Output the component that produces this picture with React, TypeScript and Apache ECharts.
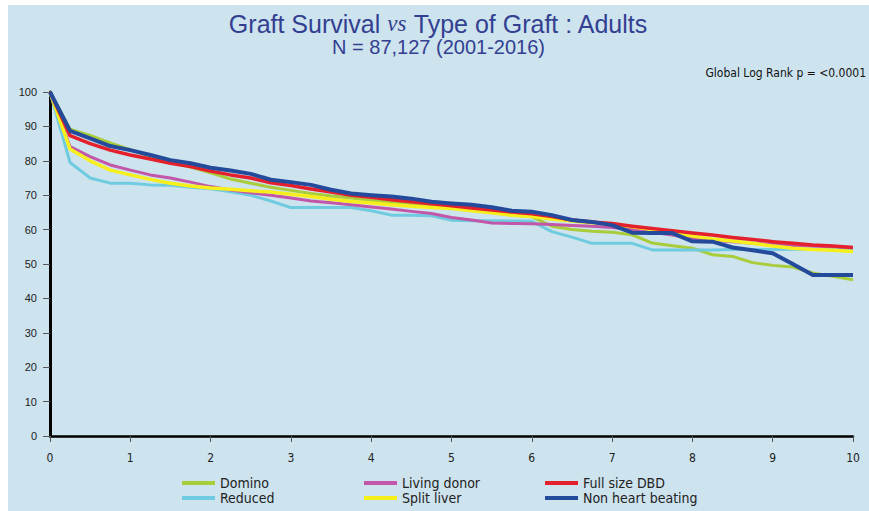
import React, { useEffect, useRef } from "react";
import * as echarts from "echarts";

const years = [0, 0.25, 0.5, 0.75, 1, 1.25, 1.5, 1.75, 2, 2.25, 2.5, 2.75, 3, 3.25, 3.5, 3.75, 4, 4.25, 4.5, 4.75, 5, 5.25, 5.5, 5.75, 6, 6.25, 6.5, 6.75, 7, 7.25, 7.5, 7.75, 8, 8.25, 8.5, 8.75, 9, 9.25, 9.5, 9.75, 10];

const domino = [100, 89.2, 87.4, 85.2, 83.2, 81.3, 79.6, 78.2, 76.5, 74.7, 73.5, 72.3, 71.4, 70.5, 69.8, 69.2, 68.5, 67.9, 67.3, 66.8, 66.3, 65.7, 65, 64.3, 63.7, 61, 60, 59.5, 59.2, 58.5, 56.1, 55.3, 54.6, 52.7, 52.2, 50.4, 49.6, 49.1, 47.4, 46.4, 45.4];
const reduced = [100, 79.5, 75, 73.5, 73.5, 73, 72.9, 72.3, 71.9, 71, 70, 68.3, 66.4, 66.4, 66.4, 66.4, 65.5, 64.2, 64.2, 64, 62.7, 62.6, 62.6, 62.5, 62.4, 59.4, 57.8, 56, 56, 56, 54.1, 54.1, 54.1, 54.1, 54.2, 54.2, 54.2, 54.3, 54.3, 54.3, 54.3];
const livingDonor = [100, 84.1, 81.2, 78.8, 77.3, 75.9, 75, 73.8, 72.5, 71.5, 70.7, 70, 69.2, 68.3, 67.8, 67.2, 66.6, 66, 65.3, 64.7, 63.5, 62.8, 61.9, 61.8, 61.7, 61.5, 61.2, 61, 60.6, 60, 59.2, 58.4, 57.5, 57, 56.5, 56, 55.7, 55.4, 55.2, 55, 54.8];
const splitLiver = [100, 83.4, 80, 77.3, 75.9, 74.6, 73.5, 72.7, 72.1, 71.7, 71.3, 70.9, 70.3, 69.6, 68.8, 68.2, 67.7, 67.2, 66.8, 66.4, 66.1, 65.5, 64.9, 64.2, 63.8, 63.1, 62.5, 62, 61.6, 60.8, 60, 58.9, 58.1, 57.3, 56.7, 56, 55.2, 54.6, 54.2, 54, 53.6];
const fullSizeDBD = [100, 87.3, 85, 83.1, 81.7, 80.5, 79.3, 78.3, 77, 75.9, 75, 73.6, 72.8, 71.8, 70.9, 70, 69.4, 68.7, 68.1, 67.5, 66.9, 66.3, 65.7, 65.1, 64.6, 63.8, 62.8, 62.2, 61.8, 61, 60.3, 59.7, 59, 58.4, 57.7, 57.1, 56.5, 56, 55.5, 55.2, 54.8];
const nonHeartBeating = [100, 88.7, 86.5, 84.3, 83.1, 81.7, 80.2, 79.3, 78, 77.2, 76.2, 74.5, 73.8, 73, 71.6, 70.5, 70, 69.6, 69, 68.1, 67.6, 67.2, 66.5, 65.5, 65.2, 64.2, 62.8, 62.2, 61.3, 59.1, 59, 59, 56.6, 56.5, 54.8, 54, 53.1, 50, 46.8, 46.8, 46.8];

const seriesDefs = [
  { name: "Domino", data: domino, color: "#a9cc3b", width: 3 },
  { name: "Reduced", data: reduced, color: "#6fcbe0", width: 3 },
  { name: "Living donor", data: livingDonor, color: "#c257a9", width: 3 },
  { name: "Split liver", data: splitLiver, color: "#f7ef1c", width: 3.5 },
  { name: "Full size DBD", data: fullSizeDBD, color: "#e3202b", width: 3.5 },
  { name: "Non heart beating", data: nonHeartBeating, color: "#234a9b", width: 4 },
];

const legendColumns = [
  ["Domino", "Reduced"],
  ["Living donor", "Split liver"],
  ["Full size DBD", "Non heart beating"],
];

const narrow = "'Liberation Sans Narrow', 'DejaVu Sans Condensed', 'Liberation Sans', sans-serif";
const sans = "'Liberation Sans', Arial, sans-serif";

export default function App() {
  const ref = useRef<HTMLDivElement>(null);
  useEffect(() => {
    if (!ref.current) return;
    const chart = echarts.init(ref.current, null, { renderer: "svg" });
    const legendLefts = [174, 356, 537];
    chart.setOption({
      animation: false,
      backgroundColor: "#cde3ee",
      title: {
        left: "center",
        top: 1,
        text: "{a|Graft Survival }{b|vs}{a| Type of Graft : Adults}",
        subtext: "N = 87,127 (2001-2016)",
        itemGap: 1,
        textStyle: {
          fontWeight: "normal",
          rich: {
            a: { fontFamily: sans, fontSize: 25, fontWeight: "normal", color: "#333f91" },
            b: { fontFamily: "'Liberation Serif', serif", fontStyle: "italic", fontWeight: "normal", fontSize: 23, color: "#333f91" },
          },
        },
        subtextStyle: { fontFamily: sans, fontSize: 20, color: "#333f91" },
      },
      graphic: [
        {
          type: "text",
          right: 3,
          top: 62,
          style: { text: "Global Log Rank p = <0.0001", font: `12px ${narrow}`, fill: "#111" },
        },
      ],
      legend: legendColumns.map((names, i) => ({
        show: true,
        type: "plain",
        orient: "vertical",
        left: legendLefts[i],
        top: 471,
        padding: 0,
        itemWidth: 33,
        itemHeight: 4,
        itemGap: 1,
        icon: "rect",
        selectedMode: false,
        textStyle: { fontFamily: narrow, fontSize: 14, color: "#222" },
        data: names.map((n) => ({ name: n })),
      })),
      grid: { left: 42, right: 16, top: 87, bottom: 75, containLabel: false },
      xAxis: {
        type: "value",
        min: 0,
        max: 10,
        interval: 1,
        axisLine: { show: true, lineStyle: { color: "#000", width: 2.5 } },
        axisTick: { show: true, length: 6, lineStyle: { color: "#555", width: 1 } },
        axisLabel: { fontFamily: narrow, fontSize: 12, color: "#222", margin: 16 },
        splitLine: { show: false },
      },
      yAxis: {
        type: "value",
        min: 0,
        max: 100,
        interval: 10,
        axisLine: { show: true, lineStyle: { color: "#000", width: 3 } },
        axisTick: { show: true, length: 7, lineStyle: { color: "#555", width: 1 } },
        axisLabel: { fontFamily: sans, fontSize: 11, color: "#222", margin: 13 },
        splitLine: { show: false },
      },
      series: seriesDefs.map((s) => ({
        name: s.name,
        type: "line",
        data: years.map((t, i) => [t, s.data[i]]),
        showSymbol: false,
        symbol: "none",
        itemStyle: { color: s.color },
        lineStyle: { color: s.color, width: s.width, join: "round" },
      })),
    });
    return () => chart.dispose();
  }, []);
  return (
    <div
      ref={ref}
      style={{ position: "fixed", left: 8, top: 5, width: 861, height: 506 }}
    />
  );
}
